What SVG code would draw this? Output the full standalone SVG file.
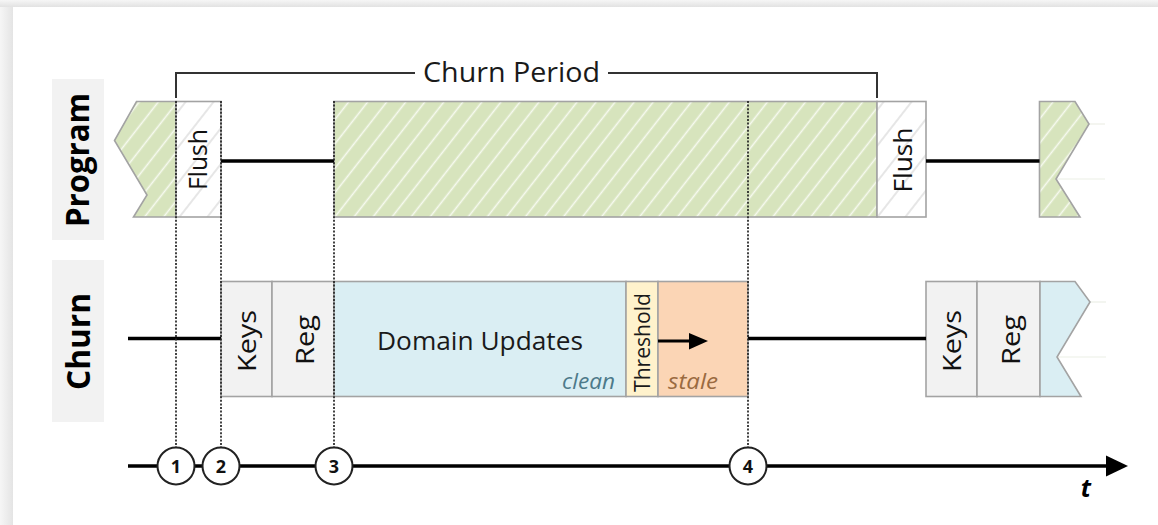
<svg xmlns="http://www.w3.org/2000/svg" width="1158" height="525" viewBox="0 0 1158 525">
  <style>
    .box { stroke: #A3A3A3; stroke-width: 1.6; }
    .lbl { font-family: "Open Sans", "Noto Sans", sans-serif; fill: #1a1a1a; }
    .side { font-family: "Open Sans", "Noto Sans", sans-serif; font-weight: 700; font-size: 32px; fill: #000; text-anchor: middle; }
    .vt { font-family: "Open Sans", "Noto Sans", sans-serif; font-size: 26px; fill: #111; text-anchor: middle; }
    .thick { stroke: #000; stroke-width: 3.5; fill: none; }
    .dot { stroke: #222; stroke-width: 1.7; stroke-dasharray: 2 1.6; fill: none; }
    .circ { fill: #fff; stroke: #222; stroke-width: 2; }
    .num { font-family: "Open Sans", "Noto Sans", sans-serif; font-weight: 700; font-size: 18px; fill: #111; text-anchor: middle; }
    .faint { stroke: #ECEFE6; stroke-width: 1.2; }
  </style>
  <defs>
    <linearGradient id="lshade" x1="0" y1="0" x2="1" y2="0">
      <stop offset="0" stop-color="#F6F6F6"/>
      <stop offset="1" stop-color="#E4E4E4"/>
    </linearGradient>
    <linearGradient id="tshade" x1="0" y1="0" x2="0" y2="1">
      <stop offset="0" stop-color="#F6F6F6"/>
      <stop offset="1" stop-color="#E2E2E2"/>
    </linearGradient>
    <pattern id="hatchG" patternUnits="userSpaceOnUse" width="15" height="15" patternTransform="rotate(38)">
      <rect width="15" height="15" fill="#D7E4BD"/>
      <line x1="7.5" y1="0" x2="7.5" y2="15" stroke="#F7FAF0" stroke-width="1.6"/>
    </pattern>
    <pattern id="hatchW" patternUnits="userSpaceOnUse" width="22" height="22" patternTransform="rotate(38)">
      <rect width="22" height="22" fill="#FFFFFF"/>
      <line x1="11" y1="0" x2="11" y2="22" stroke="#D6D6D6" stroke-width="1.2"/>
    </pattern>
  </defs>

  <!-- card background -->
  <rect x="0" y="0" width="1158" height="525" fill="#FFFFFF"/>
  <rect x="0" y="0" width="13" height="525" fill="url(#lshade)"/>
  <rect x="0" y="0" width="1158" height="7" fill="url(#tshade)"/>
  <rect x="13" y="7" width="1145" height="518" fill="#FFFFFF"/>

  <!-- row labels -->
  <g id="label-program">
    <rect x="52" y="79" width="52" height="161" fill="#F2F2F2"/>
    <text class="side" transform="translate(89,160) rotate(-90)" textLength="134" lengthAdjust="spacingAndGlyphs">Program</text>
  </g>
  <g id="label-churn">
    <rect x="52" y="260" width="52" height="162" fill="#F2F2F2"/>
    <text class="side" transform="translate(90,341.5) rotate(-90)" textLength="97" lengthAdjust="spacingAndGlyphs">Churn</text>
  </g>

  <!-- Program row -->
  <g id="program-start">
    <polygon class="box" points="136.5,101.5 176,101.5 176,217 133.5,217 147,195 114.5,140.5" fill="url(#hatchG)"/>
  </g>
  <g id="flush-1">
    <rect class="box" x="176" y="101.5" width="45" height="115.5" fill="url(#hatchW)"/>
    <text class="vt" transform="translate(206.5,159.5) rotate(-90)" textLength="61" lengthAdjust="spacingAndGlyphs">Flush</text>
  </g>
  <g id="program-main">
    <rect class="box" x="334" y="101.5" width="543" height="115.5" fill="url(#hatchG)"/>
  </g>
  <g id="flush-2">
    <rect class="box" x="877" y="101.5" width="49" height="115.5" fill="url(#hatchW)"/>
    <text class="vt" transform="translate(911.5,160) rotate(-90)" textLength="65" lengthAdjust="spacingAndGlyphs">Flush</text>
  </g>
  <g id="program-end">
    <line class="faint" x1="1089" y1="124" x2="1105" y2="124"/>
    <line class="faint" x1="1056" y1="179" x2="1105" y2="179"/>
    <polygon class="box" points="1039.5,101.5 1075,101.5 1089,124 1056,179 1080,217 1039.5,217" fill="url(#hatchG)"/>
  </g>

  <!-- Churn row -->
  <g id="keys-1">
    <rect class="box" x="221" y="281.5" width="51" height="115" fill="#F2F2F2"/>
    <text class="vt" transform="translate(256,341) rotate(-90)" textLength="62" lengthAdjust="spacingAndGlyphs">Keys</text>
  </g>
  <g id="reg-1">
    <rect class="box" x="272" y="281.5" width="62" height="115" fill="#F2F2F2"/>
    <text class="vt" transform="translate(314,340) rotate(-90)" textLength="50" lengthAdjust="spacingAndGlyphs">Reg</text>
  </g>
  <g id="domain-updates">
    <rect class="box" x="334" y="281.5" width="292" height="115" fill="#DAEEF3"/>
    <text class="lbl" x="480" y="350" font-size="26" text-anchor="middle" textLength="206" lengthAdjust="spacingAndGlyphs">Domain Updates</text>
    <text x="615" y="389" font-family="Open Sans, Noto Sans, sans-serif" font-style="italic" font-size="21" fill="#4D7A8A" text-anchor="end" textLength="53" lengthAdjust="spacingAndGlyphs">clean</text>
  </g>
  <g id="threshold">
    <rect class="box" x="626" y="281.5" width="32" height="115" fill="#FFF2CC"/>
    <text class="lbl" transform="translate(649.5,342.5) rotate(-90)" font-size="21" text-anchor="middle" textLength="99" lengthAdjust="spacingAndGlyphs">Threshold</text>
  </g>
  <g id="stale">
    <rect class="box" x="658" y="281.5" width="90" height="115" fill="#FBD5B5"/>
    <line x1="658" y1="341" x2="694" y2="341" stroke="#000" stroke-width="3"/>
    <polygon points="689,333 708,341 689,349.5" fill="#000"/>
    <text x="668" y="389" font-family="Open Sans, Noto Sans, sans-serif" font-style="italic" font-size="21" fill="#9A6A40" textLength="50" lengthAdjust="spacingAndGlyphs">stale</text>
  </g>
  <g id="keys-2">
    <rect class="box" x="926" y="281.5" width="51" height="115" fill="#F2F2F2"/>
    <text class="vt" transform="translate(961,341) rotate(-90)" textLength="62" lengthAdjust="spacingAndGlyphs">Keys</text>
  </g>
  <g id="reg-2">
    <rect class="box" x="977" y="281.5" width="63" height="115" fill="#F2F2F2"/>
    <text class="vt" transform="translate(1019.5,340) rotate(-90)" textLength="50" lengthAdjust="spacingAndGlyphs">Reg</text>
  </g>
  <g id="churn-end">
    <line class="faint" x1="1090" y1="302" x2="1106" y2="302" stroke="#E6EEF1"/>
    <line class="faint" x1="1057" y1="357" x2="1106" y2="357" stroke="#E6EEF1"/>
    <polygon class="box" points="1040,281.5 1075,281.5 1090,302 1057,357 1081,396.5 1040,396.5" fill="#DAEEF3"/>
  </g>

  <!-- Churn Period bracket -->
  <g id="churn-period">
    <path d="M176,98 V73 H415 M608,73 H877 V98" stroke="#333" stroke-width="2" fill="none"/>
    <text class="lbl" x="511.5" y="82" font-size="27" text-anchor="middle" textLength="177" lengthAdjust="spacingAndGlyphs">Churn Period</text>
  </g>

  <!-- connectors -->
  <g id="connectors">
    <line class="thick" x1="221" y1="161" x2="334" y2="161"/>
    <line class="thick" x1="926" y1="161" x2="1039.5" y2="161"/>
    <line class="thick" x1="128" y1="338.5" x2="221" y2="338.5"/>
    <line class="thick" x1="748" y1="338.5" x2="926" y2="338.5"/>
    <line class="dot" x1="176" y1="101" x2="176" y2="447"/>
    <line class="dot" x1="221" y1="101" x2="221" y2="447"/>
    <line class="dot" x1="334" y1="101" x2="334" y2="447"/>
    <line class="dot" x1="748" y1="101" x2="748" y2="447"/>
    <line class="thick" x1="128" y1="466" x2="1108" y2="466"/>
    <polygon points="1106,455.5 1128,466 1106,476.5" fill="#000"/>
  </g>

  <!-- time markers -->
  <g id="marker-1">
    <circle class="circ" cx="176" cy="466" r="18.5"/>
    <text class="num" x="176" y="472.5">1</text>
  </g>
  <g id="marker-2">
    <circle class="circ" cx="221" cy="466" r="18.5"/>
    <text class="num" x="221" y="472.5">2</text>
  </g>
  <g id="marker-3">
    <circle class="circ" cx="334" cy="466" r="18.5"/>
    <text class="num" x="334" y="472.5">3</text>
  </g>
  <g id="marker-4">
    <circle class="circ" cx="748" cy="466" r="18.5"/>
    <text class="num" x="748" y="472.5">4</text>
  </g>
  <g id="axis-label">
    <text x="1086" y="497" font-family="Open Sans, Noto Sans, sans-serif" font-weight="700" font-style="italic" font-size="25" fill="#000" text-anchor="middle">t</text>
  </g>
</svg>
